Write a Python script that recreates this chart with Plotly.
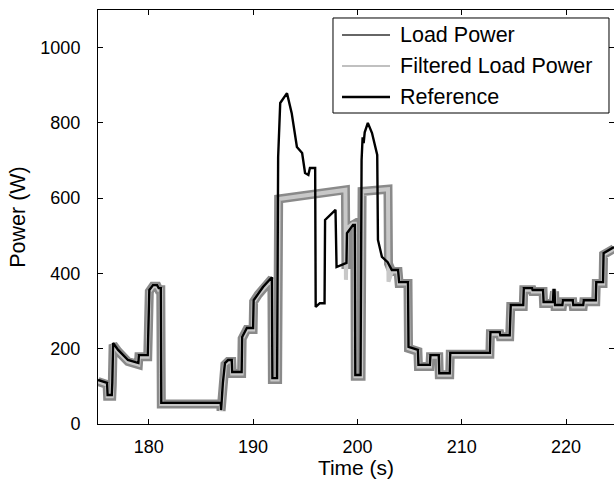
import plotly.graph_objects as go

# Reference power profile (time in s, power in W)
ref_t = [175.13, 176.0, 176.05, 176.45, 176.5, 176.58, 177.06, 178.0, 179.0, 179.05,
         179.9, 179.95, 180.05, 180.4, 180.8, 180.95, 181.15, 181.2, 186.9, 186.93,
         187.1, 187.3, 187.6, 187.95, 188.0, 188.9, 188.95, 189.4, 190.0, 190.05,
         190.5, 190.95, 191.8, 191.85, 192.3, 192.4, 192.6, 193.1, 193.25, 193.7,
         194.2, 194.7, 194.98, 195.3, 195.45, 195.95, 196.0, 196.4, 196.85, 196.9,
         197.85, 197.9, 198.0, 198.8, 198.95, 199.0, 199.58, 199.75, 199.8, 200.3,
         200.4, 200.5, 200.6, 200.7, 201.0, 201.4, 201.9, 201.97, 202.35, 202.9,
         203.3, 203.9, 204.0, 204.85, 204.9, 205.8, 205.85, 206.95, 207.0, 207.8,
         207.85, 208.85, 208.9, 212.7, 212.75, 213.65, 213.7, 214.6, 214.7, 215.9,
         215.95, 216.75, 216.8, 217.8, 217.85, 218.75, 218.8, 218.9, 218.95, 219.65,
         219.7, 220.65, 220.7, 221.65, 221.7, 222.85, 222.9, 223.55, 223.6, 224.6]
ref_p = [117, 109, 77, 77, 109, 215, 197, 170, 162, 183,
         183, 223, 356, 369, 369, 361, 361, 56, 56, 37,
         109, 162, 170, 170, 138, 138, 231, 255, 255, 329,
         348, 364, 390, 122, 122, 709, 853, 871, 879, 826,
         736, 720, 667, 662, 680, 680, 311, 321, 321, 542,
         569, 569, 417, 428, 428, 507, 529, 529, 130, 130,
         701, 762, 746, 775, 800, 773, 715, 489, 444, 430,
         409, 409, 377, 377, 205, 197, 157, 157, 183, 183,
         135, 135, 189, 189, 244, 244, 236, 236, 316, 316,
         361, 361, 356, 356, 324, 324, 356, 356, 316, 316,
         329, 329, 316, 316, 329, 329, 377, 377, 454, 470]

# Measured load power and its filtered version (shared time base)
load_t = [175.13, 176.0, 176.05, 176.45, 176.5, 176.58, 177.06, 178.0, 179.0, 179.05,
          179.9, 179.95, 180.05, 180.4, 180.8, 180.95, 181.15, 181.2, 186.9, 186.93,
          187.1, 187.3, 187.6, 187.95, 188.0, 188.9, 188.95, 189.4, 190.0, 190.05,
          190.5, 190.95, 191.8, 191.85, 192.35, 192.45, 193.5, 194.5, 195.5, 196.5,
          197.5, 198.5, 198.85, 198.9, 198.95, 199.0, 199.58, 199.75, 199.8, 200.35,
          200.45, 201.5, 202.5, 202.93, 202.98, 203.3, 203.9, 204.0, 204.85, 204.9,
          205.8, 205.85, 206.95, 207.0, 207.8, 207.85, 208.85, 208.9, 212.7, 212.75,
          213.65, 213.7, 214.6, 214.7, 215.9, 215.95, 216.75, 216.8, 217.8, 217.85,
          218.75, 218.8, 218.9, 218.95, 219.65, 219.7, 220.65, 220.7, 221.65, 221.7,
          222.85, 222.9, 223.55, 223.6, 224.6]
load_p = [113, 105, 74, 74, 105, 211, 193, 166, 158, 179,
          179, 219, 352, 366, 366, 357, 357, 53, 53, 35,
          105, 158, 166, 166, 134, 134, 227, 251, 251, 325,
          344, 360, 386, 118, 118, 598, 602, 606, 608, 612,
          616, 620, 622, 424, 424, 520, 532, 532, 127, 127,
          618, 621, 623, 624, 426, 405, 405, 373, 373, 201,
          193, 153, 153, 179, 179, 131, 131, 185, 185, 240,
          240, 232, 232, 312, 312, 357, 357, 352, 352, 320,
          320, 352, 352, 312, 312, 325, 325, 312, 312, 325,
          325, 373, 373, 450, 466]
filt_p = [113, 105, 74, 74, 105, 211, 193, 166, 158, 179,
          179, 219, 352, 366, 366, 357, 357, 53, 53, 35,
          105, 158, 166, 166, 134, 134, 227, 251, 251, 325,
          344, 360, 386, 118, 118, 598, 602, 606, 608, 612,
          616, 620, 622, 383, 424, 520, 532, 532, 127, 127,
          618, 621, 623, 624, 378, 405, 405, 373, 373, 201,
          193, 153, 153, 179, 179, 131, 131, 185, 185, 240,
          240, 232, 232, 312, 312, 357, 357, 352, 352, 320,
          320, 352, 352, 312, 312, 325, 325, 312, 312, 325,
          325, 373, 373, 450, 466]

x_ticks = [180, 190, 200, 210, 220]
y_ticks = [0, 200, 400, 600, 800, 1000]
x_range = [175.13, 224.6]
y_range = [0, 1100]

legend_names = ["Load Power", "Filtered Load Power", "Reference"]

FONT = "Liberation Sans, Arial, sans-serif"
LOAD_COLOR = "#8a8a8a"
FILT_COLOR = "#c8c8c8"

fig = go.Figure()

# Data traces: thick noisy-load band, filtered centre line, reference on top
fig.add_trace(go.Scatter(x=load_t, y=load_p, mode="lines", name=legend_names[0],
                         showlegend=False, line=dict(color=LOAD_COLOR, width=9),
                         hoverinfo="skip"))
fig.add_trace(go.Scatter(x=load_t, y=filt_p, mode="lines", name=legend_names[1],
                         showlegend=False, line=dict(color=FILT_COLOR, width=4),
                         hoverinfo="skip"))
fig.add_trace(go.Scatter(x=ref_t, y=ref_p, mode="lines", name=legend_names[2],
                         showlegend=False, line=dict(color="black", width=2.4),
                         hoverinfo="skip"))

# Mirror axes for the top frame line and right-hand tick marks
fig.add_trace(go.Scatter(x=[None], y=[None], xaxis="x2", yaxis="y2",
                         showlegend=False, hoverinfo="skip"))

# Boxed legend in the upper-right corner (paper coordinates)
box_x0, box_x1, box_y0, box_y1 = 0.4554, 0.9903, 0.7512, 0.9807
sample_x0, sample_x1, label_x = 0.4729, 0.5659, 0.5814
row_y = [0.9396, 0.8647, 0.7899]
sample_style = [("#666666", 1.8), ("#c0c0c0", 1.8), ("black", 2.4)]

shapes = [dict(type="rect", xref="paper", yref="paper", x0=box_x0, x1=box_x1,
               y0=box_y0, y1=box_y1, line=dict(color="black", width=1),
               fillcolor="white", layer="above")]
annotations = []
for name, (color, width), ry in zip(legend_names, sample_style, row_y):
    shapes.append(dict(type="line", xref="paper", yref="paper", x0=sample_x0,
                       x1=sample_x1, y0=ry, y1=ry, layer="above",
                       line=dict(color=color, width=width)))
    annotations.append(dict(text=name, xref="paper", yref="paper", x=label_x, y=ry,
                            xanchor="left", yanchor="middle", showarrow=False,
                            font=dict(family=FONT, size=21.5, color="black")))

axis_common = dict(ticks="inside", ticklen=5, tickwidth=1, tickcolor="black",
                   showgrid=False, zeroline=False)

fig.update_layout(
    width=614, height=479,
    margin=dict(l=98, r=0, t=10, b=55),
    paper_bgcolor="white", plot_bgcolor="white",
    font=dict(family=FONT, size=18, color="black"),
    showlegend=False,
    xaxis=dict(range=x_range, tickvals=x_ticks, showline=True, linecolor="black",
               linewidth=1, ticklabelstandoff=6,
               title=dict(text="Time (s)", font=dict(size=21), standoff=3),
               **axis_common),
    yaxis=dict(range=y_range, tickvals=y_ticks, showline=True, linecolor="black",
               linewidth=1, ticklabelstandoff=13,
               title=dict(text="Power (W)", font=dict(size=21.5), standoff=8),
               **axis_common),
    xaxis2=dict(range=x_range, tickvals=x_ticks, overlaying="x", side="top",
                showticklabels=False, showline=True, linecolor="black", linewidth=1,
                anchor="y", **axis_common),
    yaxis2=dict(range=y_range, tickvals=y_ticks, overlaying="y", side="right",
                showticklabels=False, showline=False, anchor="x", **axis_common),
    shapes=shapes,
    annotations=annotations,
)

fig.write_html("out.html")
